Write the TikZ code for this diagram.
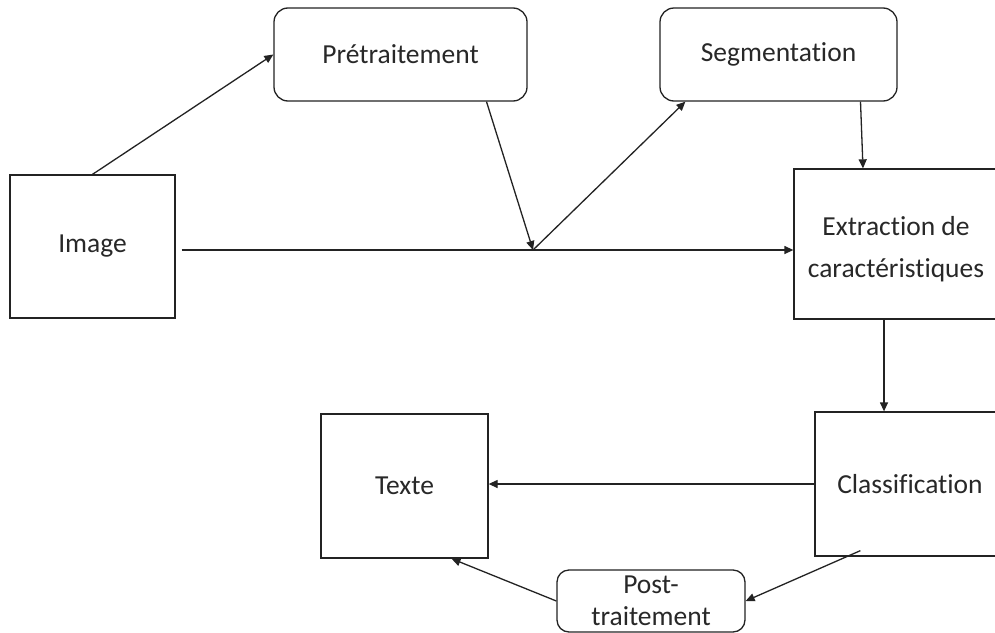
\documentclass[tikz,border=0pt]{standalone}
\usepackage{fontspec}
\setmainfont[Ligatures={NoCommon}]{Carlito}
\usetikzlibrary{arrows.meta}
\definecolor{linec}{RGB}{35,35,35}
\definecolor{textc}{RGB}{40,40,40}
\tikzset{
  box/.style={draw=linec, line width=1.3pt, inner sep=0pt, font=\fontsize{27.5}{42}\selectfont, text=textc, align=center},
  rbox/.style={box, rounded corners=14pt},
  conn/.style={draw=linec, line width=1.3pt},
  arr/.style={conn, -{Triangle[length=9pt,width=8pt]}}
}
\begin{document}
\begin{tikzpicture}[x=1pt,y=-1pt]
\clip (0,0) rectangle (995,632);
\fill[white] (0,0) rectangle (995,632);
\node[box, minimum width=165pt, minimum height=143pt] (img) at (92.5,246.5) {Image};
\node[rbox, minimum width=253pt, minimum height=93pt] (pre) at (400.5,54.5) {Prétraitement};
\node[rbox, minimum width=237pt, minimum height=93pt] (seg) at (778.5,54.5) {Segmentation};
\node[box, minimum width=204pt, minimum height=150pt] (ext) at (896,244) {\rule{0pt}{30pt}Extraction de\\caractéristiques};
\node[box, minimum width=190pt, minimum height=144pt] (cls) at (910,484) {Classification};
\node[box, minimum width=167pt, minimum height=144pt] (txt) at (404.5,486) {Texte};
\node[rbox, rounded corners=12pt, minimum width=188pt, minimum height=62pt, font=\fontsize{27.5}{32}\selectfont] (post) at (651,601) {Post-\\traitement};
\coordinate (J) at (533,250);
\draw[arr] (img.north) -- (pre.west);
\draw[arr] ([xshift=86pt]pre.south) -- (J);
\draw[arr] (J) -- ([xshift=26pt]seg.south west);
\draw[arr] ([xshift=6pt]img.east |- J) -- (ext.west |- J);
\draw[arr] ([xshift=82pt]seg.south) -- ([xshift=-33pt]ext.north);
\draw[arr] ([xshift=-12pt]ext.south) -- ([xshift=-26pt]cls.north);
\draw[arr] (cls.west) -- (txt.east |- cls.west);
\draw[arr] ([xshift=46pt,yshift=6pt]cls.south west) -- (post.east);
\draw[arr] (post.west) -- ([xshift=47pt]txt.south);
\end{tikzpicture}
\end{document}
